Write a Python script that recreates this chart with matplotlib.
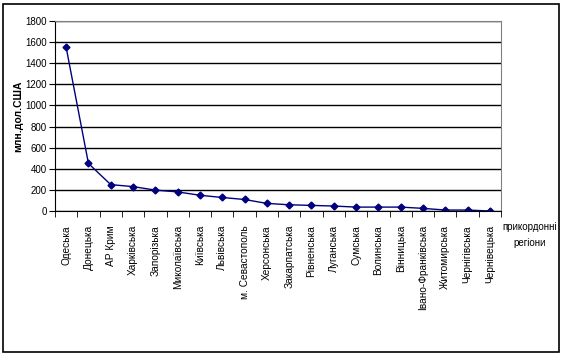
import numpy as np
import matplotlib.pyplot as plt
from matplotlib.patches import Rectangle

regions = ['Одеська', 'Донецька', 'АР Крим', 'Харківська', 'Запорізька',
           'Миколаївська', 'Київська', 'Львівська', 'м. Севастополь', 'Херсонська',
           'Закарпатська', 'Рівненська', 'Луганська', 'Сумська', 'Волинська',
           'Вінницька', 'Івано-Франківська', 'Житомирська', 'Чернігівська', 'Чернівецька']
values = [1550, 450, 250, 231, 198, 181, 149, 128, 109, 72,
          59, 53, 47, 37, 37, 37, 25, 9, 9, 0]
yticks = [0, 200, 400, 600, 800, 1000, 1200, 1400, 1600, 1800]

plt.rcParams['font.family'] = ['Liberation Sans', 'DejaVu Sans']

fig = plt.figure(figsize=(5.63, 3.56), dpi=100)
ax = fig.add_axes([55/563, 1-211/356, 446/563, 190/356])

x = np.arange(len(regions))
ax.plot(x, values, color='#000080', lw=1, marker='D', ms=3.5, mfc='#000080', mec='#000080')

ax.set_xlim(-0.5, len(regions) - 0.5)
ax.set_ylim(0, 1800)
ax.set_yticks(yticks)
ax.set_yticklabels([str(v) for v in yticks], fontsize=7)
ax.yaxis.grid(True, color='black', lw=1)
ax.set_axisbelow(True)

ax.set_xticks(x)
ax.set_xticklabels(regions, rotation=90, fontsize=7.3, va='top')
ax.set_xticks(np.arange(len(regions) + 1) - 0.5, minor=True)
ax.tick_params(axis='x', which='major', length=0, pad=10)
ax.tick_params(axis='x', which='minor', length=4, direction='out', color='black')
ax.tick_params(axis='y', length=4, direction='out', pad=2)

for s in ['top', 'right']:
    ax.spines[s].set_color('gray')
for s in ['left', 'bottom']:
    ax.spines[s].set_color('black')

ax.set_ylabel('млн.дол.США', fontsize=7.5, fontweight='bold', labelpad=1)

fig.text(530/563, 1-235/356, 'прикордонні\nрегіони', ha='center', va='center',
         fontsize=7, linespacing=1.8)

fig.patches.append(Rectangle((3/563, 4/356), 556/563, 348/356, transform=fig.transFigure,
                             fill=False, edgecolor='black', lw=1.2))

fig.savefig('out.png', dpi=100)
